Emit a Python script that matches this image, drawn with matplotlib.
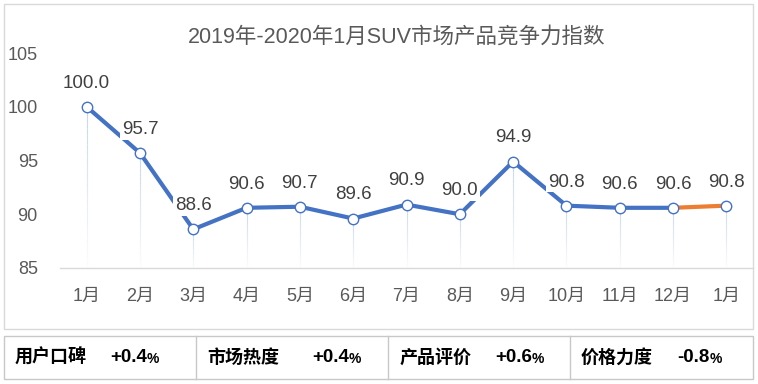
import matplotlib
matplotlib.use("Agg")
import matplotlib.pyplot as plt
from matplotlib.collections import LineCollection
from matplotlib.patches import Rectangle
import numpy as np

plt.rcParams['font.family'] = ['Liberation Sans', 'Noto Sans CJK SC', 'DejaVu Sans']

months = ["1月", "2月", "3月", "4月", "5月", "6月", "7月", "8月", "9月",
          "10月", "11月", "12月", "1月"]
index_vals = [100.0, 95.7, 88.6, 90.6, 90.7, 89.6, 90.9, 90.0, 94.9,
              90.8, 90.6, 90.6, 90.8]
title = "2019年-2020年1月SUV市场产品竞争力指数"
table_names = ["用户口碑", "市场热度", "产品评价", "价格力度"]
table_vals = ["+0.4", "+0.4", "+0.6", "-0.8"]

W, H = 758, 384
BLUE = "#4472C4"
ORANGE = "#ED7D31"

fig = plt.figure(figsize=(W / 100, H / 100), dpi=100)


def fx(px):
    return px / W


def fy(py):
    return 1 - py / H


# outer chart frame
fig.patches.append(Rectangle((fx(4), fy(329)), fx(749), 325 / H,
                             transform=fig.transFigure, fill=False,
                             ec="#d9d9d9", lw=1))

ax = fig.add_axes([fx(60), fy(268), fx(693), (268 - 53) / H])
x = np.arange(len(months))
ax.set_xlim(-0.5, len(months) - 0.5)
ax.set_ylim(85, 105)

# drop lines with fading gradient
n_seg = 30
for xi, yi in zip(x, index_vals):
    ys = np.linspace(yi, 85, n_seg + 1)
    segs = [[(xi, ys[k]), (xi, ys[k + 1])] for k in range(n_seg)]
    alphas = np.linspace(0.9, 0.05, n_seg)
    cols = [(0.75, 0.82, 0.93, a) for a in alphas]
    ax.add_collection(LineCollection(segs, colors=cols, lw=0.8, zorder=1))

ax.plot(x[:12], index_vals[:12], color=BLUE, lw=3, zorder=2,
        solid_joinstyle="round", solid_capstyle="round")
ax.plot(x[11:], index_vals[11:], color=ORANGE, lw=3, zorder=2,
        solid_capstyle="round")
ax.plot(x, index_vals, ls="none", marker="o", ms=7.5, mfc="white",
        mec=BLUE, mew=1, zorder=4)

for xi, yi in zip(x, index_vals):
    ax.annotate(f"{yi:.1f}", (xi, yi), xytext=(0, 17), textcoords="offset points",
                ha="center", va="center", fontsize=13.5, color="#404040", zorder=5,
                bbox=dict(boxstyle="square,pad=0.1", fc="white", ec="none"))

for s in ["top", "right", "left"]:
    ax.spines[s].set_visible(False)
ax.spines["bottom"].set_color("#d9d9d9")
ax.spines["bottom"].set_linewidth(1)
ax.set_xticks(x)
ax.set_xticklabels(months)
ax.set_yticks([85, 90, 95, 100, 105])
ax.tick_params(axis="both", length=0, labelsize=13, colors="#595959")
ax.tick_params(axis="y", pad=16)
ax.tick_params(axis="x", pad=14)

fig.text(fx(397), fy(37), title, ha="center", va="center", fontsize=15.5,
         color="#595959")

# bottom table
fig.patches.append(Rectangle((fx(4), fy(379)), fx(749), 43 / H,
                             transform=fig.transFigure, fill=False,
                             ec="#c8c8c8", lw=1))
for dx in [196, 388, 570]:
    fig.lines.append(plt.Line2D([fx(dx), fx(dx)], [fy(336), fy(379)],
                                transform=fig.transFigure, color="#c8c8c8", lw=1))
name_x = [15, 207, 400, 581]
val_x = [110, 312, 495, 677]
for nm, v, nx, vx in zip(table_names, table_vals, name_x, val_x):
    fig.text(fx(nx), fy(358), nm, ha="left", va="center", fontsize=13,
             fontweight="bold", color="black")
    t = fig.text(fx(vx), fy(358), v, ha="left", va="center", fontsize=13.5,
                 fontweight="bold", color="black")
    fig.canvas.draw()
    bb = t.get_window_extent()
    fig.text(bb.x1 / W, fy(359), "%", ha="left", va="center", fontsize=10,
             fontweight="bold", color="black")

fig.savefig("out.png", dpi=100)
